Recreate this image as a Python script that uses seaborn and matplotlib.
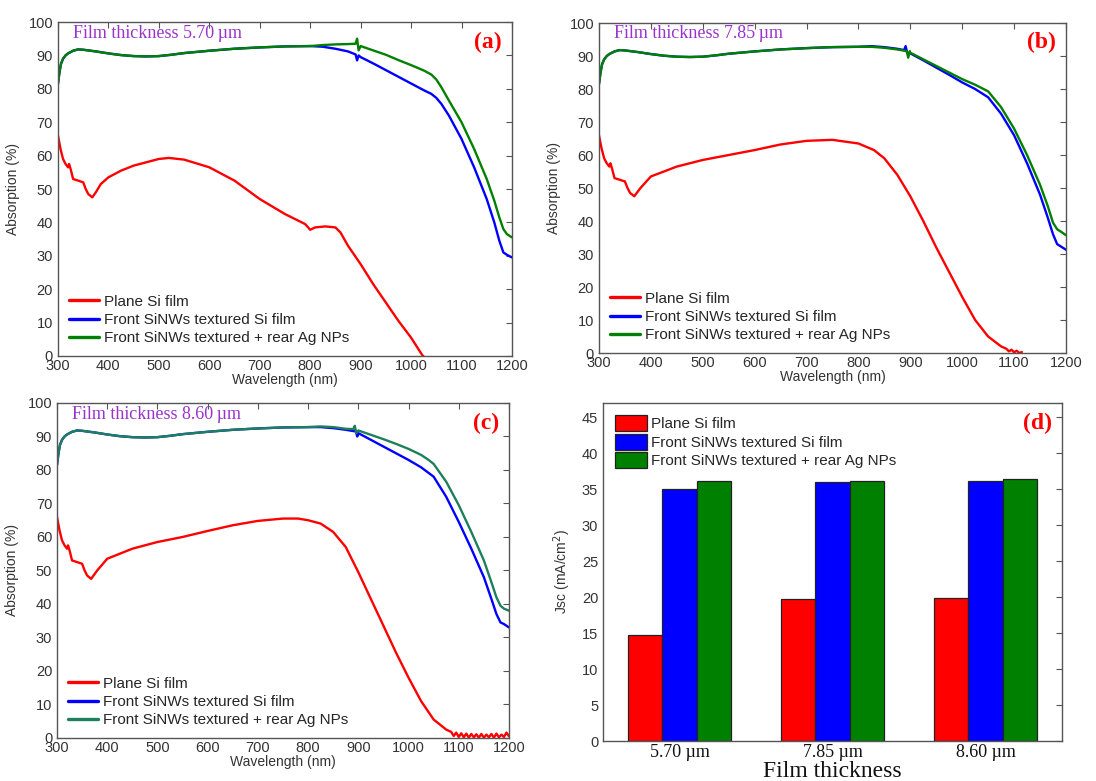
import numpy as np
import pandas as pd
import matplotlib
matplotlib.use("Agg")
import matplotlib.pyplot as plt
import seaborn as sns
from matplotlib.patches import Patch
from matplotlib.lines import Line2D

sns.set_style("white")
plt.rcParams['font.family'] = ['Liberation Sans', 'DejaVu Sans']

# ---------------- data ----------------
SERIES = ["Plane Si film", "Front SiNWs textured Si film", "Front SiNWs textured + rear Ag NPs"]

# shared initial segment of textured curves (300-800 nm)
WL_SH = [300, 303, 306, 310, 315, 320, 330, 340, 350, 375, 400, 425, 450, 475, 500, 525, 550, 600, 650, 700, 750, 800]
AB_SH = [81.5, 85, 87.5, 89, 90, 90.6, 91.4, 91.8, 91.7, 91.2, 90.6, 90.1, 89.8, 89.7, 89.8, 90.2, 90.7, 91.4, 92.0, 92.4, 92.7, 92.8]

# ---- panel (a) 5.70 um ----
WL_A_RED = [300, 305, 310, 315, 320, 322, 325, 330, 340, 350, 355, 360, 368, 375, 385, 400, 425, 450, 475, 500, 520, 550,
            600, 650, 700, 750, 790, 800, 810, 830, 850, 860, 875, 900, 925, 950, 975, 1000, 1022, 1030]
AB_A_RED = [66, 62, 59, 57.5, 56.5, 57.5, 56, 53, 52.5, 52, 50, 48.5, 47.5, 49, 51.5, 53.5, 55.5, 57, 58, 59, 59.3, 58.8,
            56.5, 52.5, 47, 42.5, 39.5, 37.8, 38.5, 38.8, 38.5, 37, 33, 27.5, 21.5, 16, 10.5, 5.5, 0.3, -1]
WL_A_BLUE = [825, 850, 875, 890, 893, 896, 900, 925, 950, 975, 1000, 1025, 1040, 1050, 1060, 1075, 1100, 1125, 1150, 1165, 1175, 1183, 1190, 1200]
AB_A_BLUE = [92.6, 92.0, 91.2, 90.3, 88.5, 90.0, 89.5, 87.6, 85.6, 83.6, 81.6, 79.6, 78.5, 77.3, 75.5, 72, 65, 56.5, 47, 40, 34.5, 31, 30.3, 29.5]
WL_A_GREEN = [825, 850, 875, 890, 893, 896, 900, 925, 950, 975, 1000, 1025, 1040, 1050, 1060, 1075, 1100, 1125, 1150, 1165, 1175, 1183, 1190, 1200]
AB_A_GREEN = [93.1, 93.3, 93.4, 93.5, 95, 91.5, 92.8, 91.5, 90.2, 88.6, 87.1, 85.5, 84.3, 82.8, 80.5, 76.5, 70, 62, 53, 46.5, 41.5, 38, 36.5, 35.5]

# ---- panel (b) 7.85 um ----
WL_B_RED = [300, 305, 310, 315, 320, 322, 325, 330, 340, 350, 355, 360, 368, 380, 400, 450, 500, 550, 600, 650, 700, 750,
            800, 830, 850, 875, 900, 925, 950, 975, 1000, 1025, 1050, 1075, 1085, 1090, 1095, 1100, 1105, 1110, 1115]
AB_B_RED = [66, 62, 59, 57.5, 56.5, 57.5, 56, 53, 52.5, 52, 50, 48.5, 47.5, 50, 53.5, 56.5, 58.5, 60, 61.5, 63.2, 64.3, 64.6,
            63.5, 61.5, 59, 54, 47.5, 40, 32, 24.5, 17, 10, 5, 2, 1.3, 0.5, 1.0, 0.2, 0.7, 0.0, 0.3]
WL_B_BLUE = [825, 850, 875, 888, 891, 894, 900, 925, 950, 975, 1000, 1025, 1050, 1075, 1100, 1125, 1150, 1165, 1175, 1183, 1190, 1200]
AB_B_BLUE = [93, 92.7, 92.2, 91.8, 93, 91, 90.8, 88.7, 86.5, 84.3, 82, 80, 77.5, 72.5, 66, 57.5, 48, 41, 36, 33, 32.3, 31.3]
WL_B_GREEN = [825, 850, 875, 893, 896, 899, 900, 925, 950, 975, 1000, 1025, 1050, 1075, 1100, 1125, 1150, 1165, 1175, 1183, 1190, 1200]
AB_B_GREEN = [92.8, 92.5, 92, 91.5, 89.5, 91.5, 91, 89, 87, 85, 83, 81.3, 79.3, 74.5, 68, 60, 51, 44.5, 39.5, 37.5, 36.8, 35.7]

# ---- panel (c) 8.60 um ----
WL_C_RED = [300, 305, 310, 315, 320, 322, 325, 330, 340, 350, 355, 360, 368, 380, 400, 450, 500, 550, 600, 650, 700, 750,
            780, 800, 825, 850, 875, 900, 925, 950, 975, 1000, 1025, 1050, 1075, 1085, 1090, 1095, 1100, 1105, 1110,
            1115, 1120, 1125, 1130, 1135, 1140, 1145, 1150, 1155, 1160, 1165, 1170, 1175, 1180, 1185, 1190, 1195, 1200]
AB_C_RED = [66, 62, 59, 57.5, 56.5, 57.5, 56, 53, 52.5, 52, 50, 48.5, 47.5, 50, 53.5, 56.5, 58.5, 60, 61.8, 63.5, 64.8, 65.5,
            65.5, 65, 64, 61.5, 57, 49.5, 41.5, 33.5, 25.5, 18, 11, 5.5, 2.5, 1.8, 0.6, 1.6, 0.3, 1.4, 0.2,
            1.3, 0.1, 1.2, 0.2, 1.1, 0.1, 1.2, 0.1, 1.0, 0.2, 1.2, 0.1, 1.3, 0.2, 1.0, 0.3, 1.6, 0.5]
WL_C_BLUE = [825, 850, 875, 895, 898, 900, 925, 950, 975, 1000, 1025, 1050, 1075, 1100, 1125, 1150, 1165, 1175, 1183, 1190, 1200]
AB_C_BLUE = [92.8, 92.5, 92, 91.5, 90, 91, 89, 87, 85, 83, 80.8, 78, 72, 64.5, 56.5, 48, 41.5, 37, 34.5, 34, 33]
WL_C_GREEN = [825, 850, 875, 890, 893, 896, 900, 925, 950, 975, 1000, 1025, 1040, 1050, 1075, 1100, 1125, 1150, 1165, 1175, 1183, 1190, 1200]
AB_C_GREEN = [93, 92.8, 92.3, 92.2, 93.2, 91, 91.8, 90.5, 89.2, 87.8, 86.3, 84.5, 83, 81.8, 76.5, 69.5, 61.5, 53, 46.5, 42, 39.5, 38.6, 38]

# ---- panel (d) Jsc ----
THICKNESS = ["5.70 \u00b5m", "7.85 \u00b5m", "8.60 \u00b5m"]
JSC_PLANE = [14.7, 19.7, 19.9]
JSC_FRONT = [35.1, 36.0, 36.1]
JSC_AG = [36.2, 36.2, 36.5]

PANEL_TITLES = ["Film thickness 5.70\u2009\u00b5m", "Film thickness 7.85\u2009\u00b5m", "Film thickness 8.60\u2009\u00b5m"]
PANEL_LETTERS = ["(a)", "(b)", "(c)", "(d)"]

RED, BLUE, GREEN = "#FF0000", "#0000FF", "#008000"
GREEN_C = "#1E7F5C"
PURPLE = "#9933CC"
EDGE = "#555555"
TXT = "#333333"


def build(red_wl, red_ab, blue_wl, blue_ab, green_wl, green_ab):
    rows = []
    for w, a in zip(red_wl, red_ab):
        rows.append((w, a, SERIES[0]))
    for w, a in zip(WL_SH + blue_wl, AB_SH + blue_ab):
        rows.append((w, a, SERIES[1]))
    for w, a in zip(WL_SH + green_wl, AB_SH + green_ab):
        rows.append((w, a, SERIES[2]))
    return pd.DataFrame(rows, columns=["wl", "abs", "series"])


def style_axes(ax):
    for s in ax.spines.values():
        s.set_visible(True)
        s.set_color(EDGE)
        s.set_linewidth(1.0)
    ax.tick_params(direction="in", top=True, right=True, length=4, width=0.8,
                   colors=EDGE, labelcolor=TXT, labelsize=10.5)


fig = plt.figure(figsize=(10.96, 7.81), dpi=100)
positions = [
    [0.0529, 0.5442, 0.4142, 0.4276],
    [0.5465, 0.5480, 0.4261, 0.4225],
    [0.0520, 0.0551, 0.4124, 0.4289],
    [0.5502, 0.0512, 0.4188, 0.4328],
]

datasets = [
    build(WL_A_RED, AB_A_RED, WL_A_BLUE, AB_A_BLUE, WL_A_GREEN, AB_A_GREEN),
    build(WL_B_RED, AB_B_RED, WL_B_BLUE, AB_B_BLUE, WL_B_GREEN, AB_B_GREEN),
    build(WL_C_RED, AB_C_RED, WL_C_BLUE, AB_C_BLUE, WL_C_GREEN, AB_C_GREEN),
]

for i in range(3):
    ax = fig.add_axes(positions[i])
    green = GREEN_C if i == 2 else GREEN
    pal = {SERIES[0]: RED, SERIES[1]: BLUE, SERIES[2]: green}
    sns.lineplot(data=datasets[i], x="wl", y="abs", hue="series", palette=pal,
                 estimator=None, sort=True, linewidth=1.7, ax=ax, legend=False)
    ax.set_xlim(300, 1200)
    ax.set_ylim(0, 100)
    ax.set_xticks(range(300, 1201, 100))
    ax.set_yticks(range(0, 101, 10))
    ax.set_xlabel("Wavelength (nm)", fontsize=10, color=TXT, labelpad=0)
    ax.set_ylabel("Absorption (%)", fontsize=10, color=TXT, labelpad=6)
    style_axes(ax)
    ax.tick_params(axis="x", pad=2)
    handles = [Line2D([0], [0], color=c, lw=2.4) for c in (RED, BLUE, green)]
    ax.legend(handles, SERIES, loc="lower left", frameon=False, fontsize=11,
              handlelength=2.0, handletextpad=0.3, labelspacing=0.28,
              borderaxespad=0.3, bbox_to_anchor=(0.0, 0.0))
    ax.text(0.033, 0.967, PANEL_TITLES[i], transform=ax.transAxes, ha="left", va="center",
            fontsize=13, color=PURPLE, family=["Liberation Serif", "DejaVu Serif"])
    ax.text(0.978, 0.94, PANEL_LETTERS[i], transform=ax.transAxes, ha="right", va="center",
            fontsize=17, fontweight="bold", color=RED, family=["Liberation Serif", "DejaVu Serif"])

# ---- bar panel ----
ax = fig.add_axes(positions[3])
rows = []
for t, v in zip(THICKNESS, JSC_PLANE):
    rows.append((t, v, SERIES[0]))
for t, v in zip(THICKNESS, JSC_FRONT):
    rows.append((t, v, SERIES[1]))
for t, v in zip(THICKNESS, JSC_AG):
    rows.append((t, v, SERIES[2]))
dfb = pd.DataFrame(rows, columns=["thick", "jsc", "series"])
sns.barplot(data=dfb, x="thick", y="jsc", hue="series", order=THICKNESS, hue_order=SERIES,
            palette={SERIES[0]: RED, SERIES[1]: BLUE, SERIES[2]: GREEN}, saturation=1,
            width=0.67, edgecolor="#222222", linewidth=0.9, errorbar=None, ax=ax, legend=False)
ax.set_xlim(-0.5, 2.5)
ax.set_ylim(0, 47)
ax.set_yticks(range(0, 46, 5))
style_axes(ax)
ax.tick_params(axis="x", top=False, bottom=False, labelsize=13, pad=2)
for lab in ax.get_xticklabels():
    lab.set_family(["Liberation Serif", "DejaVu Serif"])
    lab.set_color("#111111")
ax.set_ylabel("Jsc (mA/cm$^2$)", fontsize=10, color=TXT, labelpad=6)
ax.set_xlabel("Film thickness", fontsize=17, color="#111111", labelpad=0,
              family=["Liberation Serif", "DejaVu Serif"])
handles = [Patch(facecolor=c, edgecolor="#222222", linewidth=0.9) for c in (RED, BLUE, GREEN)]
ax.legend(handles, SERIES, loc="upper left", frameon=False, fontsize=11,
          handlelength=2.1, handleheight=1.25, handletextpad=0.25, labelspacing=0.15,
          borderaxespad=0.4, bbox_to_anchor=(0.0, 1.0))
ax.text(0.978, 0.94, PANEL_LETTERS[3], transform=ax.transAxes, ha="right", va="center",
        fontsize=17, fontweight="bold", color=RED, family=["Liberation Serif", "DejaVu Serif"])

fig.savefig("out.png", dpi=100)
